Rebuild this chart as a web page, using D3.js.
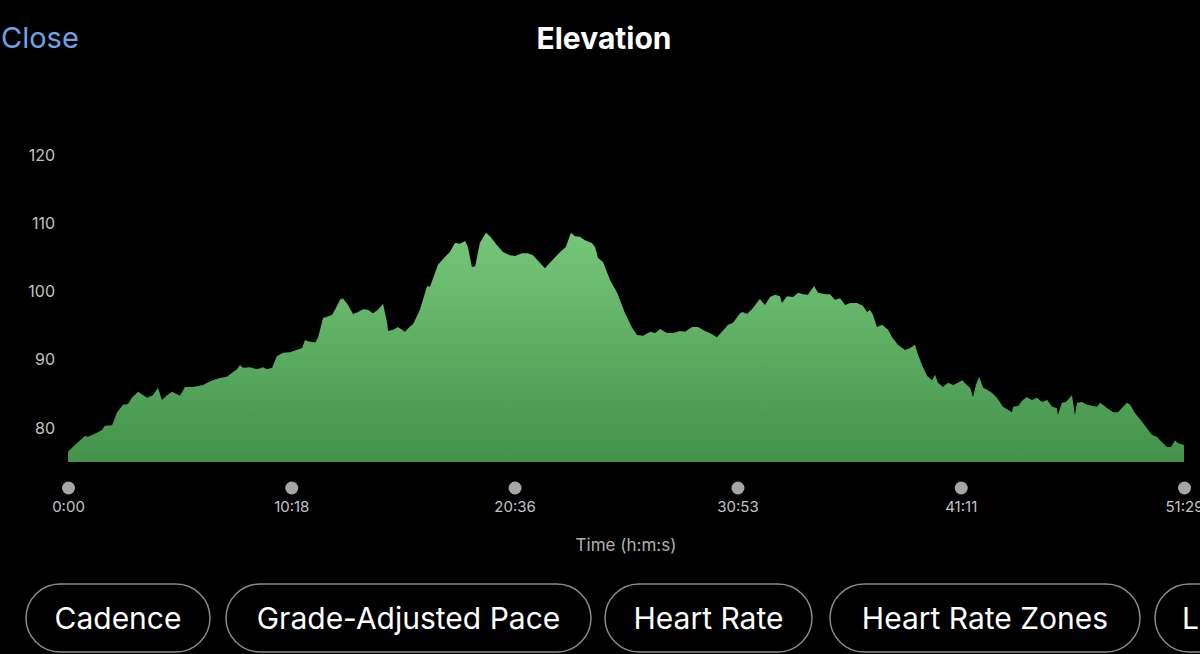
<!DOCTYPE html>
<html>
<head>
<meta charset="utf-8">
<script src="https://cdn.jsdelivr.net/npm/d3@7"></script>
<style>
  html, body { margin: 0; padding: 0; background: #000; overflow: hidden; }
  svg { display: block; font-family: Inter, "Noto Sans", sans-serif; }
</style>
</head>
<body>
<script>
// elapsed time in seconds
var timeSec = [
  0, 11, 25, 47, 55, 80, 94, 102, 122, 136, 152, 166, 177, 194, 219, 235, 249, 260, 274, 288,
  310, 324, 346, 374, 388, 401, 421, 440, 457, 468, 476, 484, 504, 523, 540, 551, 565, 578, 595, 614,
  642, 648, 656, 664, 684, 692, 706, 717, 731, 739, 753, 761, 775, 789, 803, 817, 830, 844, 858, 872,
  883, 886, 900, 913, 933, 947, 955, 974, 994, 1002, 1024, 1044, 1057, 1071, 1085, 1099, 1107, 1118, 1127, 1140,
  1157, 1168, 1187, 1204, 1223, 1237, 1257, 1273, 1287, 1320, 1334, 1362, 1378, 1392, 1403, 1417, 1431, 1450, 1459, 1467,
  1481, 1500, 1520, 1542, 1561, 1575, 1592, 1611, 1625, 1639, 1658, 1675, 1694, 1708, 1727, 1744, 1763, 1777, 1796, 1810,
  1827, 1841, 1860, 1868, 1879, 1893, 1915, 1929, 1943, 1957, 1971, 1976, 1990, 2007, 2021, 2034, 2048, 2065, 2076, 2095,
  2109, 2123, 2137, 2151, 2165, 2184, 2200, 2212, 2220, 2228, 2239, 2253, 2270, 2281, 2297, 2317, 2331, 2344, 2353, 2364,
  2378, 2392, 2400, 2408, 2422, 2436, 2450, 2463, 2475, 2488, 2497, 2505, 2513, 2522, 2533, 2544, 2558, 2571, 2588, 2613,
  2616, 2630, 2643, 2654, 2668, 2682, 2696, 2710, 2724, 2737, 2740, 2751, 2762, 2779, 2787, 2793, 2807, 2821, 2837, 2848,
  2857, 2876, 2893, 2906, 2931, 2940, 2953, 2973, 2987, 3000, 3014, 3028, 3042, 3053, 3064, 3072, 3089
];

// elevation in metres
var elevation = [
  76.5, 77.1, 77.8, 78.8, 78.7, 79.3, 79.7, 80.3, 80.4, 82.3, 83.4, 83.5, 84.4, 85.3, 84.4, 84.8, 85.9, 84.1, 84.8, 85.3,
  84.7, 86.0, 86.0, 86.3, 86.7, 87.0, 87.3, 87.5, 88.2, 88.6, 89.2, 88.8, 88.9, 88.6, 88.9, 88.6, 88.8, 90.5, 91.0, 91.1,
  91.6, 91.7, 92.9, 92.7, 92.5, 93.2, 96.1, 96.3, 96.6, 97.3, 98.8, 99.0, 98.0, 96.7, 97.0, 97.4, 97.3, 96.8, 97.3, 98.2,
  95.5, 94.2, 94.4, 94.8, 94.1, 94.9, 95.2, 97.3, 100.8, 100.7, 103.9, 105.1, 105.8, 107.1, 107.0, 107.4, 106.5, 103.6, 103.7, 107.1,
  108.6, 108.1, 106.8, 105.8, 105.3, 105.2, 105.6, 105.6, 105.3, 103.4, 104.2, 105.8, 106.5, 108.6, 108.1, 108.0, 107.5, 107.1, 106.5, 104.9,
  104.3, 101.7, 99.8, 96.8, 94.7, 93.6, 93.5, 94.1, 93.9, 94.5, 93.9, 93.9, 94.2, 94.1, 94.8, 94.8, 94.2, 93.9, 93.3, 94.1,
  95.1, 95.4, 96.8, 97.0, 96.7, 97.4, 98.9, 98.0, 99.2, 99.5, 99.3, 98.3, 99.3, 99.2, 99.8, 99.6, 99.5, 100.8, 99.8, 99.6,
  99.6, 98.8, 99.0, 98.0, 98.3, 98.3, 97.9, 97.0, 97.3, 96.6, 94.8, 95.1, 94.4, 93.3, 92.2, 91.4, 91.7, 92.2, 90.7, 89.2,
  87.6, 87.0, 87.8, 86.6, 86.0, 86.6, 86.3, 86.6, 87.0, 86.3, 85.9, 84.5, 86.3, 87.5, 85.9, 85.6, 85.1, 84.4, 83.1, 82.3,
  83.1, 83.2, 84.1, 84.5, 84.1, 84.4, 83.8, 84.1, 83.1, 82.9, 81.9, 83.7, 83.8, 84.8, 81.9, 83.7, 83.8, 83.4, 83.2, 83.1,
  83.7, 82.9, 82.3, 82.3, 83.7, 83.4, 82.2, 80.9, 79.9, 79.0, 78.7, 77.9, 77.2, 77.2, 78.2, 77.8, 77.5
];

var yTicks = [80, 90, 100, 110, 120];
var xTicks = [0, 618, 1236, 1853, 2471, 3089];
var buttons = ["Cadence", "Grade-Adjusted Pace", "Heart Rate", "Heart Rate Zones", "Laps"];

var w = 1200;
var h = 654;

var data = timeSec.map(function(t, i) {
  return { t: t, e: elevation[i] };
});

var svg = d3.select("body")
  .append("svg")
  .attr("width", w)
  .attr("height", h);

var x = d3.scaleLinear().domain([0, 3089]).range([68, 1184]);
var y = d3.scaleLinear().domain([75, 120]).range([462, 155]);

// gradient fill
var grad = svg.append("defs").append("linearGradient")
  .attr("id", "fillGrad")
  .attr("gradientUnits", "userSpaceOnUse")
  .attr("x1", 0).attr("x2", 0)
  .attr("y1", y(109)).attr("y2", y(75));
grad.append("stop").attr("offset", "0%").attr("stop-color", "#77c77b");
grad.append("stop").attr("offset", "100%").attr("stop-color", "#42924a");

// header
svg.append("text")
  .text("Close")
  .attr("x", 1)
  .attr("y", 48)
  .attr("font-size", "29px")
  .attr("fill", "#6fa3e6");

svg.append("text")
  .text("Elevation")
  .attr("x", 604)
  .attr("y", 49)
  .attr("font-size", "30px")
  .attr("font-weight", "bold")
  .attr("fill", "white")
  .attr("text-anchor", "middle");

// area
var area = d3.area()
  .x(function(d) { return x(d.t); })
  .y0(y(75))
  .y1(function(d) { return y(d.e); });

svg.append("path")
  .datum(data)
  .attr("d", area)
  .attr("fill", "url(#fillGrad)");

// y axis
var yAxis = svg.append("g")
  .attr("transform", "translate(68,0)")
  .call(d3.axisLeft(y).tickValues(yTicks).tickSize(0).tickPadding(13));
yAxis.select(".domain").remove();
yAxis.selectAll("text")
  .attr("font-size", "16px")
  .attr("font-family", "Inter, sans-serif")
  .attr("fill", "#c4c4c4");

// x axis with dots
function fmt(s) {
  var m = Math.floor(s / 60);
  var sec = s % 60;
  return m + ":" + (sec < 10 ? "0" : "") + sec;
}

var xAxis = svg.append("g")
  .attr("transform", "translate(0,488)")
  .call(d3.axisBottom(x).tickValues(xTicks).tickFormat(fmt).tickSize(0).tickPadding(13));
xAxis.select(".domain").remove();
xAxis.selectAll(".tick").append("circle")
  .attr("r", 6.5)
  .attr("cy", 0)
  .attr("fill", "#a6a6a6");
xAxis.selectAll("text")
  .attr("font-size", "15px")
  .attr("font-family", "Inter, sans-serif")
  .attr("fill", "#c4c4c4");

svg.append("text")
  .text("Time (h:m:s)")
  .attr("x", 626)
  .attr("y", 551)
  .attr("font-size", "17px")
  .attr("fill", "#b0b0b0")
  .attr("text-anchor", "middle");

// buttons
var btnX = [26, 226, 605, 830, 1155];
var btnW = [184, 365, 207, 310, 200];

var btn = svg.selectAll("g.btn")
  .data(buttons)
  .enter()
  .append("g")
  .attr("class", "btn");

btn.append("rect")
  .attr("x", function(d, i) { return btnX[i]; })
  .attr("y", 584)
  .attr("width", function(d, i) { return btnW[i]; })
  .attr("height", 68)
  .attr("rx", 34)
  .attr("fill", "none")
  .attr("stroke", "#8a8a8a")
  .attr("stroke-width", 1.5);

btn.append("text")
  .text(function(d) { return d; })
  .attr("x", function(d, i) { return i == 4 ? btnX[i] + 27 : btnX[i] + btnW[i] / 2; })
  .attr("y", 629)
  .attr("font-size", "30px")
  .attr("fill", "white")
  .attr("text-anchor", function(d, i) { return i == 4 ? "start" : "middle"; });
</script>
</body>
</html>
